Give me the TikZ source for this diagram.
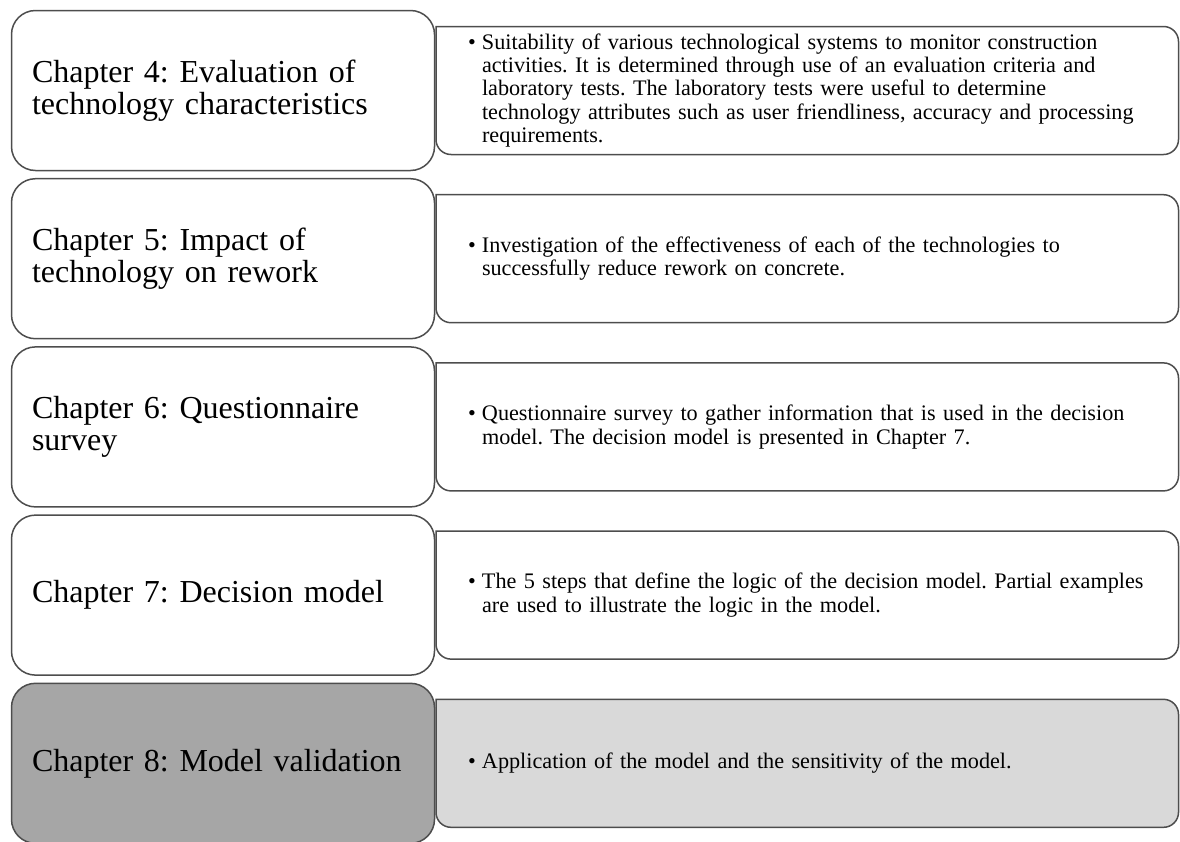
\documentclass[tikz,border=0pt]{standalone}
\usepackage{fontspec}
\setmainfont{Liberation Serif}
\usetikzlibrary{positioning, backgrounds}
\definecolor{edgegray}{HTML}{4D4D4D}
\definecolor{darkfill}{HTML}{A6A6A6}
\definecolor{lightfill}{HTML}{D9D9D9}
\frenchspacing
% bullet line and its hanging continuation lines, kept unbroken
\newcommand{\bul}[1]{\makebox[14pt][l]{\textbullet}\mbox{#1}}
\newcommand{\ind}[1]{\hspace*{14pt}\mbox{#1}}

\begin{document}
\begin{tikzpicture}[x=1pt, y=1pt, node distance=8.2pt and 1.5pt]
\tikzstyle{chapter} = [rectangle, draw=edgegray, line width=1.5pt, rounded corners=24pt,
    fill=white, minimum height=160pt, text width=382pt, inner xsep=20.5pt,
    outer sep=0pt, align=left, font=\fontsize{32pt}{31.5pt}\selectfont]
\tikzstyle{summary} = [rectangle, minimum height=128pt, text width=678.5pt,
    inner xsep=32pt, outer sep=0pt, align=left,
    font=\fontsize{22.2pt}{23.3pt}\selectfont]
\tikzstyle{frame} = [draw=edgegray, line width=1.5pt]

\useasboundingbox (0,0) rectangle (1180,-841);

% chapter column
\node (c4) [chapter, anchor=north west] at (11.5,-10.5) {Chapter 4: Evaluation of\\technology characteristics};
\node (c5) [chapter, below=of c4] {Chapter 5: Impact of\\technology on rework};
\node (c6) [chapter, below=of c5] {Chapter 6: Questionnaire\\survey};
\node (c7) [chapter, below=of c6] {Chapter 7: Decision model};
\node (c8) [chapter, below=of c7, fill=darkfill] {Chapter 8: Model validation};

% what each chapter covers
\node (d4) [summary, right=of c4] {\bul{Suitability of various technological systems to monitor construction}\\
    \ind{activities. It is determined through use of an evaluation criteria and}\\
    \ind{laboratory tests. The laboratory tests were useful to determine}\\
    \ind{technology attributes such as user friendliness, accuracy and processing}\\
    \ind{requirements.}};
\node (d5) [summary, right=of c5] {\bul{Investigation of the effectiveness of each of the technologies to}\\
    \ind{successfully reduce rework on concrete.}};
\node (d6) [summary, right=of c6] {\bul{Questionnaire survey to gather information that is used in the decision}\\
    \ind{model. The decision model is presented in Chapter 7.}};
\node (d7) [summary, right=of c7] {\bul{The 5 steps that define the logic of the decision model. Partial examples}\\
    \ind{are used to illustrate the logic in the model.}};
\node (d8) [summary, right=of c8] {\bul{Application of the model and the sensitivity of the model.}};

% boxes behind the text, rounded on the right side only
\begin{pgfonlayer}{background}
\draw[frame] (d4.north west) [rounded corners=15pt] -- (d4.north east) -- (d4.south east) -- (d4.south west) [sharp corners] -- cycle;
\draw[frame] (d5.north west) [rounded corners=15pt] -- (d5.north east) -- (d5.south east) -- (d5.south west) [sharp corners] -- cycle;
\draw[frame] (d6.north west) [rounded corners=15pt] -- (d6.north east) -- (d6.south east) -- (d6.south west) [sharp corners] -- cycle;
\draw[frame] (d7.north west) [rounded corners=15pt] -- (d7.north east) -- (d7.south east) -- (d7.south west) [sharp corners] -- cycle;
\draw[frame, fill=lightfill] (d8.north west) [rounded corners=15pt] -- (d8.north east) -- (d8.south east) -- (d8.south west) [sharp corners] -- cycle;
\end{pgfonlayer}
\end{tikzpicture}
\end{document}
